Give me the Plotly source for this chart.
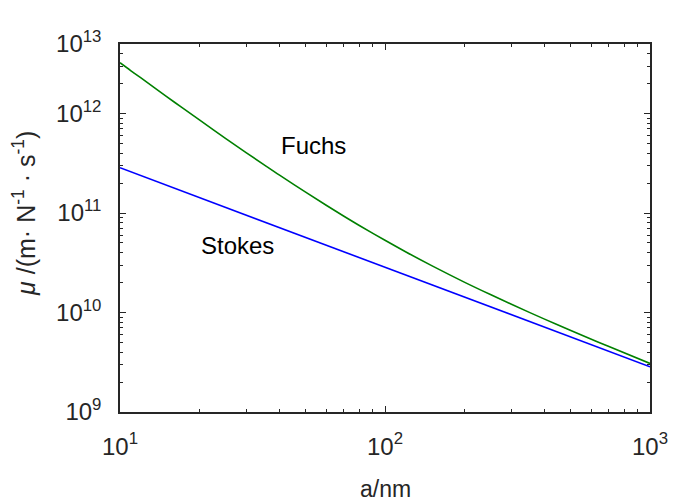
import plotly.graph_objects as go

# particle radius (nm)
a_nm = [10, 11, 12, 15, 17, 20, 25, 30, 35, 40, 50, 60, 70, 80, 100, 120, 150, 200, 250,
        300, 400, 500, 700, 1000]
# Stokes mobility (m N^-1 s^-1)
mu_stokes = [2.85e11, 2.591e11, 2.375e11, 1.90e11, 1.676e11, 1.425e11, 1.14e11, 9.5e10,
             8.143e10, 7.125e10, 5.7e10, 4.75e10, 4.07e10, 3.5625e10, 2.85e10, 2.375e10,
             1.90e10, 1.425e10, 1.14e10, 9.5e9, 7.125e9, 5.7e9, 4.07e9, 2.85e9]
# Fuchs mobility (m N^-1 s^-1)
mu_fuchs = [3.24e12, 2.69e12, 2.28e12, 1.48e12, 1.166e12, 8.57e11, 5.64e11, 4.03e11,
            3.05e11, 2.40e11, 1.63e11, 1.196e11, 9.29e10, 7.50e10, 5.32e10, 4.06e10,
            2.96e10, 2.01e10, 1.514e10, 1.21e10, 8.58e9, 6.63e9, 4.55e9, 3.08e9]

x_tickvals = [10, 100, 1000]
x_ticktext = ["10<sup>1</sup>", "10<sup>2</sup>", "10<sup>3</sup>"]
y_tickvals = [1e9, 1e10, 1e11, 1e12, 5e12]
y_ticktext = ["10<sup>9</sup>", "10<sup>10</sup>", "10<sup>11</sup>", "10<sup>12</sup>", "10<sup>13</sup>"]

x_minor = [m * 10 ** e for e in (1, 2) for m in range(2, 10)]
y_minor = [m * 10 ** e for e in (9, 10, 11) for m in range(2, 10)] + [2e12, 3e12, 4e12]

FONT = "Liberation Sans, Arial, sans-serif"
AX = "#262626"

fig = go.Figure()
fig.add_trace(go.Scatter(x=a_nm, y=mu_fuchs, mode="lines", line_shape="spline",
                         line=dict(color="#008000", width=1.6), showlegend=False))
fig.add_trace(go.Scatter(x=a_nm, y=mu_stokes, mode="lines",
                         line=dict(color="#0000FF", width=1.6), showlegend=False))

axis_common = dict(showgrid=False, zeroline=False, showline=True, linecolor=AX,
                   linewidth=1.5, mirror="allticks", ticks="inside", ticklen=6,
                   tickwidth=1.2, tickcolor=AX, automargin=False,
                   tickfont=dict(family=FONT, size=24, color=AX))

fig.update_xaxes(type="log", range=[1, 3], tickmode="array", tickvals=x_tickvals,
                 ticktext=x_ticktext, ticklabelstandoff=12,
                 minor=dict(ticks="inside", ticklen=3, tickcolor=AX, tickwidth=1.2,
                            tickvals=x_minor, showgrid=False),
                 **axis_common)
fig.update_yaxes(type="log", range=[9, 12.69897], tickmode="array", tickvals=y_tickvals,
                 ticktext=y_ticktext, ticklabelstandoff=12,
                 minor=dict(ticks="inside", ticklen=3, tickcolor=AX, tickwidth=1.2,
                            tickvals=y_minor, showgrid=False),
                 **axis_common)

fig.add_annotation(x=1.732, y=11.678, xref="x", yref="y", text="Fuchs", showarrow=False,
                   font=dict(family=FONT, size=24, color="black"))
fig.add_annotation(x=1.445, y=10.673, xref="x", yref="y", text="Stokes", showarrow=False,
                   font=dict(family=FONT, size=24, color="black"))
fig.add_annotation(x=0.5, y=-0.21, xref="paper", yref="paper", text="a/nm",
                   showarrow=False, yanchor="middle",
                   font=dict(family=FONT, size=23, color=AX))
fig.add_annotation(x=-0.18, y=0.54, xref="paper", yref="paper",
                   text="<i>μ</i> /(m· N<sup>-1</sup> · s<sup>-1</sup>)",
                   textangle=-90, showarrow=False, xanchor="center", yanchor="middle",
                   font=dict(family=FONT, size=25, color=AX))

fig.update_layout(width=673, height=503, margin=dict(l=120, r=23, t=44, b=91),
                  plot_bgcolor="white", paper_bgcolor="white")

fig.write_html("out.html")
